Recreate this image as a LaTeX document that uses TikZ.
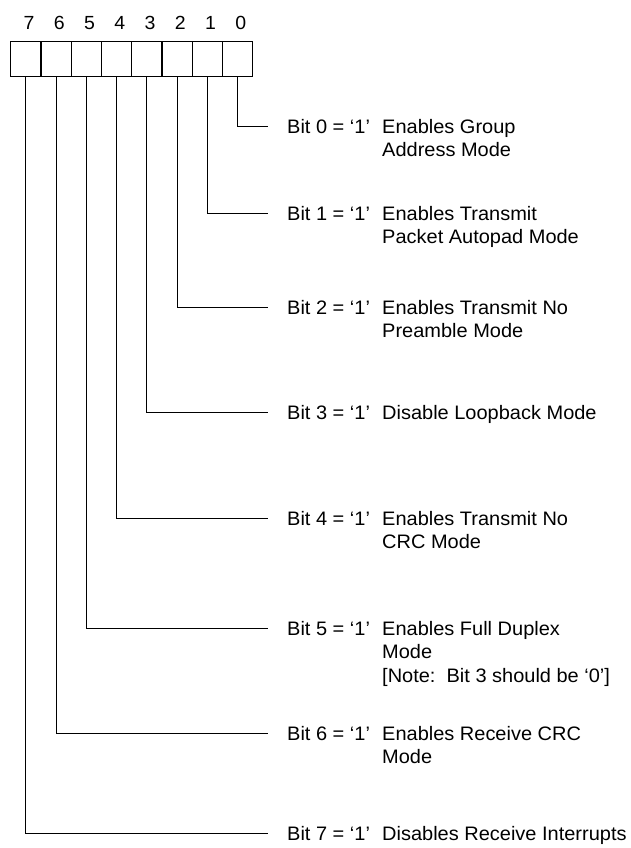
\documentclass[tikz,border=0pt]{standalone}
\usepackage{fontspec}
\setmainfont[FakeStretch=1.025]{Liberation Sans}
\newcommand\dlines[1]{\begin{tabular}[t]{@{}l@{}}#1\end{tabular}}
\begin{document}
\begin{tikzpicture}[x=1pt,y=-1pt,
  cell/.style={draw,line width=1.4pt,minimum width=30.25pt,minimum height=35pt,inner sep=0pt,anchor=north west},
  wire/.style={line width=0.8pt},
  txt/.style={font=\fontsize{19.5}{23.3}\selectfont,inner sep=0pt,anchor=base west},
  num/.style={font=\fontsize{19}{23}\selectfont,inner sep=0pt,anchor=base}]
\useasboundingbox (0,0) rectangle (631,848);
\foreach \i in {0,...,7} {
  \pgfmathsetmacro\xx{10+(7-\i)*30.25}
  \node[cell] (c\i) at (\xx,41) {};
  \node[num] (n\i) at (\xx+19,30) {\i};
}
\foreach \i/\y/\d in {
  0/126/{Enables Group\\Address Mode},
  1/213/{Enables Transmit\\Packet Autopad Mode},
  2/307/{Enables Transmit No\\Preamble Mode},
  3/412/{Disable Loopback Mode},
  4/518/{Enables Transmit No\\CRC Mode},
  5/628/{Enables Full Duplex\\Mode\\\relax[Note:\ \ Bit 3 should be ‘0’]},
  6/733/{Enables Receive CRC\\Mode},
  7/833/{Disables Receive Interrupts}} {
  \coordinate (e\i) at (268,\y);
  \node[txt] (b\i) at (287,\y+7.5) {Bit \i{} = ‘1’};
  \node[txt] (d\i) at (382,\y+7.5) {\dlines{\d}};
  \draw[wire] (c\i.south) |- (e\i);
}
\end{tikzpicture}
\end{document}
